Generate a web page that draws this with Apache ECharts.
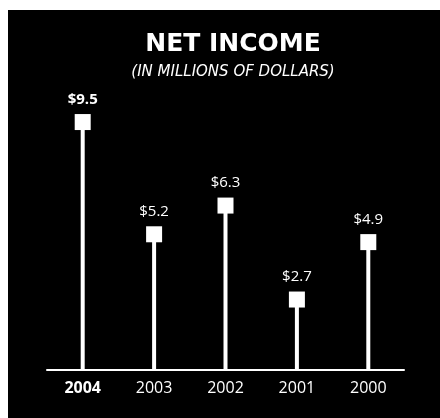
<!DOCTYPE html>
<html>
<head>
<meta charset="utf-8">
<script src="https://cdn.jsdelivr.net/npm/echarts@6/dist/echarts.min.js"></script>
<style>
  html, body { margin: 0; padding: 0; background: #fff; }
  #main { width: 440px; height: 418px; }
</style>
</head>
<body>
<div id="main"></div>
<script>
// data
var years = ['2004', '2003', '2002', '2001', '2000'];
var netIncome = [9.5, 5.2, 6.3, 2.7, 4.9];

var FONT = '"Open Sans", "DejaVu Sans", sans-serif';
var WIDE = '"DejaVu Sans", sans-serif';

var myChart = echarts.init(document.getElementById('main'));

var option = {
    backgroundColor: '#fff',
    animation: false,
    graphic: [{
        type: 'rect',
        z: -10,
        shape: { x: 8, y: 10, width: 432, height: 408 },
        style: { fill: '#000' }
    }],
    title: {
        text: 'NET INCOME',
        subtext: '(IN MILLIONS OF DOLLARS)',
        left: 228,
        textAlign: 'center',
        top: 27,
        itemGap: 8,
        textStyle: { color: '#fff', fontFamily: WIDE, fontWeight: 'bold', fontSize: 25 },
        subtextStyle: { color: '#fff', fontFamily: WIDE, fontStyle: 'italic', fontSize: 15 }
    },
    grid: { left: 47, right: 36, top: 109, bottom: 48 },
    xAxis: {
        type: 'category',
        data: years,
        axisLine: { lineStyle: { color: '#fff', width: 2 } },
        axisTick: { show: false },
        axisLabel: {
            interval: 0,
            color: '#fff',
            fontFamily: FONT,
            fontSize: 16,
            margin: 10,
            formatter: function (v, i) {
                return i === 0 ? '{b|' + v + '}' : v;
            },
            rich: { b: { fontWeight: 'bold', fontSize: 16, color: '#fff', fontFamily: FONT } }
        }
    },
    yAxis: {
        type: 'value',
        min: 0,
        max: 10,
        show: false,
        splitLine: { show: false }
    },
    series: [
        {
            type: 'bar',
            data: netIncome,
            barWidth: 4,
            itemStyle: { color: '#fff' },
            silent: true
        },
        {
            type: 'scatter',
            data: netIncome,
            symbol: 'rect',
            symbolSize: 16,
            itemStyle: { color: '#fff', opacity: 1 },
            z: 3,
            label: {
                show: true,
                position: 'top',
                distance: 7,
                color: '#fff',
                fontFamily: FONT,
                fontSize: 15,
                formatter: function (p) {
                    return p.dataIndex === 0 ? '{b|$' + p.value + '}' : '$' + p.value;
                },
                rich: { b: { fontWeight: 'bold', fontSize: 15, color: '#fff', fontFamily: FONT } }
            }
        }
    ]
};

myChart.setOption(option);
</script>
</body>
</html>
